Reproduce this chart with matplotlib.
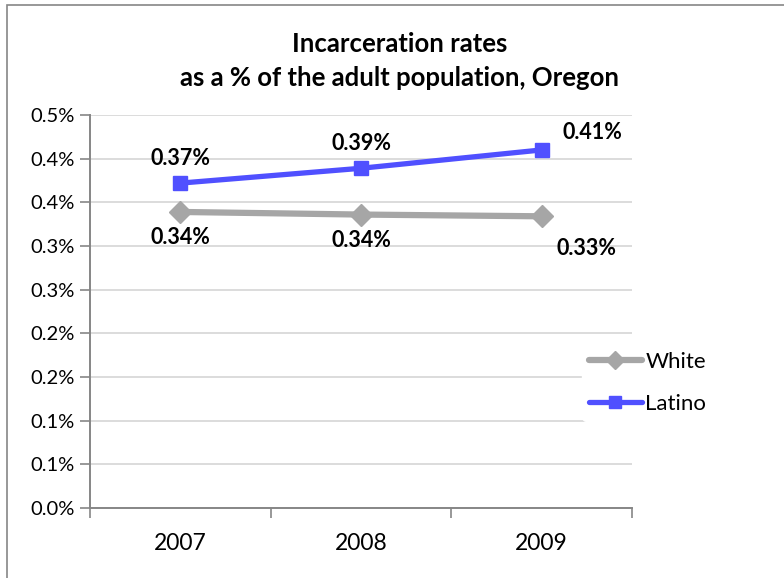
import matplotlib
matplotlib.use("Agg")
import matplotlib.pyplot as plt
from matplotlib.patches import Rectangle

plt.rcParams["font.family"] = ["Lato", "DejaVu Sans"]

# Data (percent of adult population)
years = ["2007", "2008", "2009"]
white = [0.339, 0.336, 0.334]
latino = [0.372, 0.389, 0.410]
white_labels = ["0.34%", "0.34%", "0.33%"]
latino_labels = ["0.37%", "0.39%", "0.41%"]
y_ticks = [0.0, 0.05, 0.10, 0.15, 0.20, 0.25, 0.30, 0.35, 0.40, 0.45]
y_tick_labels = ["0.0%", "0.1%", "0.1%", "0.2%", "0.2%", "0.3%", "0.3%", "0.4%", "0.4%", "0.5%"]

W, H = 784, 578
fig = plt.figure(figsize=(W / 100, H / 100), dpi=100)
ax = fig.add_axes([90 / W, 1 - 508 / H, (632 - 90) / W, (508 - 115) / H])

# outer chart border
fig.patches.append(Rectangle((7 / W, -0.1), 1.2, 1 - 5 / H + 0.1, transform=fig.transFigure,
                             fill=False, edgecolor="#868686", lw=1.2))

x = range(len(years))
ax.plot(x, white, color="#A6A6A6", lw=4.5, marker="D", markersize=11,
        label="White", solid_capstyle="round")
ax.plot(x, latino, color="#5050FF", lw=3.8, marker="s", markersize=10,
        label="Latino", solid_capstyle="round")

ax.set_xlim(-0.5, 2.5)
ax.set_ylim(0, 0.45)
ax.set_yticks(y_ticks)
ax.set_yticklabels(y_tick_labels)
ax.set_xticks([0, 1, 2])
ax.set_xticklabels(years)
ax.set_xticks([-0.5, 0.5, 1.5, 2.5], minor=True)
ax.tick_params(axis="x", which="major", length=0, labelsize=16.5, pad=18)
ax.tick_params(axis="x", which="minor", length=7, color="#868686", width=1.2)
ax.tick_params(axis="y", length=7, color="#868686", width=1.2, labelsize=14.5, pad=4)
ax.yaxis.grid(True, color="#D9D9D9", lw=1.3)
ax.set_axisbelow(True)
for side in ["top", "right"]:
    ax.spines[side].set_visible(False)
for side in ["left", "bottom"]:
    ax.spines[side].set_color("#868686")
    ax.spines[side].set_linewidth(1.4)

# data labels
lbl = dict(fontsize=15.5, fontweight="bold", ha="center", va="center")
for i, t in enumerate(latino_labels):
    dx = 51 if i == 2 else 0
    dy = 17 if i == 2 else 25
    ax.annotate(t, (i, latino[i]), xytext=(dx, dy), textcoords="offset pixels", **lbl)
for i, t in enumerate(white_labels):
    dx = 45 if i == 2 else 0
    dy = -32 if i == 2 else -26
    ax.annotate(t, (i, white[i]), xytext=(dx, dy), textcoords="offset pixels", **lbl)

fig.text(400 / W, 1 - 44 / H, "Incarceration rates", ha="center", va="center",
         fontsize=18.5, fontweight="bold")
fig.text(400 / W, 1 - 78 / H, "as a % of the adult population, Oregon", ha="center",
         va="center", fontsize=18.5, fontweight="bold")

leg = ax.legend(loc="center left", bbox_to_anchor=(571 / W, 1 - 383 / H),
                bbox_transform=fig.transFigure, frameon=True, fontsize=16,
                handlelength=2.4, handletextpad=0.15, labelspacing=1.0,
                borderpad=0.3, markerscale=0.8)
leg.get_frame().set_edgecolor("white")
leg.get_frame().set_facecolor("white")
leg.get_frame().set_alpha(1)

fig.savefig("out.png", dpi=100)
